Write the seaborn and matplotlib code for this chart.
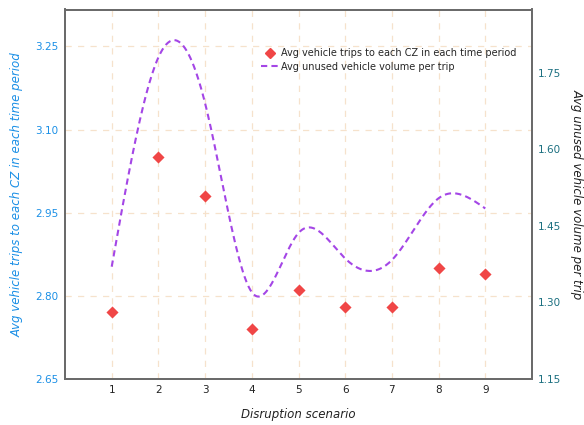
import numpy as np
import pandas as pd
import matplotlib
matplotlib.use("Agg")
import matplotlib.pyplot as plt
import seaborn as sns
from matplotlib.lines import Line2D

scenarios = [1, 2, 3, 4, 5, 6, 7, 8, 9]
avg_trips = [2.77, 3.05, 2.98, 2.74, 2.81, 2.78, 2.78, 2.85, 2.84]
avg_unused = [1.37, 1.78, 1.69, 1.32, 1.436, 1.386, 1.383, 1.504, 1.484]
left_ticks = [2.65, 2.80, 2.95, 3.10, 3.25]
right_ticks = [1.15, 1.30, 1.45, 1.60, 1.75]
label_trips = "Avg vehicle trips to each CZ in each time period"
label_unused = "Avg unused vehicle volume per trip"


def natural_spline(x, y, xs):
    x = np.asarray(x, float)
    y = np.asarray(y, float)
    n = len(x)
    h = np.diff(x)
    A = np.zeros((n, n))
    b = np.zeros(n)
    A[0, 0] = 1
    A[-1, -1] = 1
    for i in range(1, n - 1):
        A[i, i - 1] = h[i - 1]
        A[i, i] = 2 * (h[i - 1] + h[i])
        A[i, i + 1] = h[i]
        b[i] = 6 * ((y[i + 1] - y[i]) / h[i] - (y[i] - y[i - 1]) / h[i - 1])
    M = np.linalg.solve(A, b)
    out = np.empty_like(xs)
    for k, t in enumerate(xs):
        i = min(max(np.searchsorted(x, t) - 1, 0), n - 2)
        hi = h[i]
        a = (x[i + 1] - t) / hi
        c = (t - x[i]) / hi
        out[k] = (a * y[i] + c * y[i + 1]
                  + ((a ** 3 - a) * M[i] + (c ** 3 - c) * M[i + 1]) * hi ** 2 / 6)
    return out


sns.set_style("white")
plt.rcParams['font.family'] = ['DejaVu Sans']

fig = plt.figure(figsize=(5.84, 4.25), dpi=100)
ax = fig.add_axes([65 / 584, 46 / 425, 467 / 584, 369.5 / 425])

df = pd.DataFrame({"scenario": scenarios, "trips": avg_trips})
xs = np.linspace(scenarios[0], scenarios[-1], 400)
curve = pd.DataFrame({"scenario": xs, "unused": natural_spline(scenarios, avg_unused, xs)})

grid_color = "#f6e2cc"
ax.set_xlim(0, 10)
ax.set_ylim(2.65, 3.3166)
ax.set_xticks(scenarios)
ax.set_yticks(left_ticks)
ax.set_yticklabels([f"{v:.2f}" for v in left_ticks])
for xv in scenarios:
    ax.axvline(xv, color=grid_color, lw=0.9, ls=(0, (5, 5)), zorder=0)
for yv in left_ticks[1:]:
    ax.axhline(yv, color=grid_color, lw=0.9, ls=(0, (5, 5)), zorder=0)

sns.scatterplot(data=df, x="scenario", y="trips", ax=ax, marker="D", s=38,
                color="#f04646", edgecolor="#f04646", linewidth=0, zorder=3,
                legend=False)

ax2 = ax.twinx()
sns.lineplot(data=curve, x="scenario", y="unused", ax=ax2, color="#a446e6",
             lw=1.5, zorder=3, legend=False)
ax2.lines[0].set_linestyle((0, (3.0, 2.0)))
ax2.set_ylim(1.15, 1.8737)
ax2.set_yticks(right_ticks)
ax2.set_yticklabels([f"{v:.2f}" for v in right_ticks])

for a in (ax, ax2):
    for s in a.spines.values():
        s.set_color("#6b6b6b")
        s.set_linewidth(1.4)

ax.tick_params(axis="x", length=0, pad=4, labelsize=7.5, labelcolor="#222222")
ax.tick_params(axis="y", length=0, pad=5, labelsize=7.5, labelcolor="#1a8fe6")
ax2.tick_params(axis="y", length=0, pad=4, labelsize=7.5, labelcolor="#1b6f80")

ax.set_xlabel("Disruption scenario", fontsize=8.5, style="italic", color="#222222", labelpad=10)
ax.set_ylabel(label_trips, fontsize=8.5, style="italic", color="#1a8fe6",
              va="center", ha="center")
ax.yaxis.set_label_coords((17 - 65) / 467, 0.5)
ax2.set_ylabel(label_unused, fontsize=8.5, style="italic", color="#222222",
               rotation=270, va="center", ha="center")
ax2.yaxis.set_label_coords((577 - 65) / 467, 0.5)

handles = [
    Line2D([], [], marker="D", color="#f04646", ls="none", markersize=5.5),
    Line2D([], [], color="#a446e6", lw=1.5, ls=(0, (3.0, 2.0))),
]
ax2.legend(handles, [label_trips, label_unused], loc="upper left",
           bbox_to_anchor=(0.42, 0.895), frameon=False, fontsize=7,
           handlelength=1.8, handletextpad=0.25, labelspacing=0.35,
           borderaxespad=0, borderpad=0)

fig.savefig("out.png", dpi=100)
